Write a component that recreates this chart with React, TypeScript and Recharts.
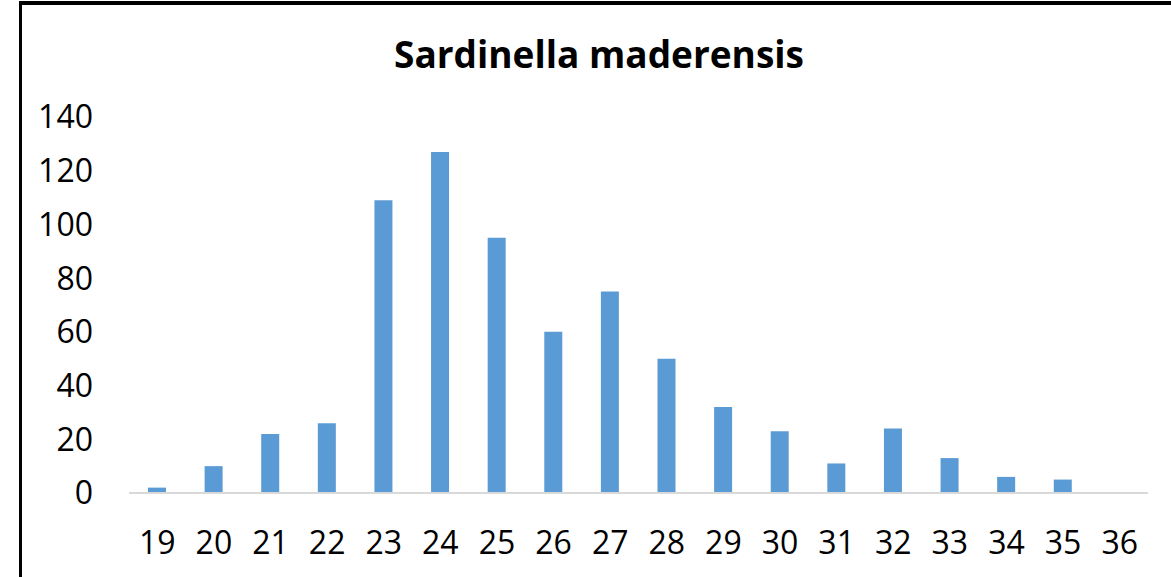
import React from "react";
import { BarChart, Bar, XAxis, YAxis } from "recharts";

const categories = ["19","20","21","22","23","24","25","26","27","28","29","30","31","32","33","34","35","36"];
const counts = [2, 10, 22, 26, 109, 127, 95, 60, 75, 50, 32, 23, 11, 24, 13, 6, 5, 0];
const yTicks = [0, 20, 40, 60, 80, 100, 120, 140];
const title = "Sardinella maderensis";

const data = categories.map((c, i) => ({ length: c, count: counts[i] }));

const FONT = "'Open Sans', 'Noto Sans', sans-serif";

export default function App() {
  return (
    <div style={{ position: "fixed", left: 0, top: 0, width: 1171, height: 577, background: "#fff", overflow: "hidden" }}>
      <div style={{ position: "absolute", left: 19, top: 1, width: 1300, height: 700, borderLeft: "3px solid #000", borderTop: "4px solid #000", boxSizing: "border-box" }} />
      <div style={{ position: "absolute", left: 0, top: 28, width: 1198, textAlign: "center", fontFamily: FONT, fontWeight: 700, fontSize: 37, color: "#000" }}>
        {title}
      </div>
      <div style={{ position: "absolute", left: 0, top: 0 }}>
        <BarChart width={1171} height={577} data={data} margin={{ top: 117, right: 23, bottom: 0, left: 0 }} barCategoryGap={0}>
          <YAxis
            type="number"
            domain={[0, 140]}
            ticks={yTicks}
            width={129}
            axisLine={false}
            tickLine={false}
            tickSize={0}
            tickMargin={36}
            tick={{ fill: "#000", fontSize: 32, fontFamily: FONT }}
            interval={0}
          />
          <XAxis
            dataKey="length"
            height={84}
            axisLine={{ stroke: "#d9d9d9", strokeWidth: 2 }}
            tickLine={false}
            tickSize={0}
            tickMargin={38}
            tick={{ fill: "#000", fontSize: 32, fontFamily: FONT }}
            interval={0}
          />
          <Bar dataKey="count" fill="#5b9bd5" barSize={18} isAnimationActive={false} />
        </BarChart>
      </div>
    </div>
  );
}
